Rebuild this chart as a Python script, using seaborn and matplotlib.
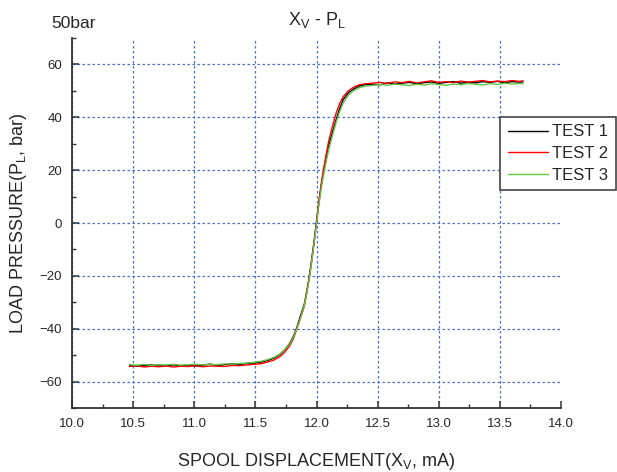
import numpy as np
import pandas as pd
import matplotlib
matplotlib.use("Agg")
import matplotlib.pyplot as plt
import seaborn as sb
from matplotlib.ticker import MultipleLocator

# spool displacement (mA) sample positions
xv = [10.47, 10.53, 10.59, 10.65, 10.71, 10.77, 10.83, 10.89, 10.95, 11.01,
      11.07, 11.13, 11.19, 11.25, 11.31, 11.37, 11.43, 11.49,
      11.55, 11.60, 11.65, 11.70, 11.74, 11.78, 11.81, 11.84, 11.87, 11.90,
      11.92, 11.94, 11.96, 11.98, 12.00, 12.02, 12.04, 12.06, 12.08, 12.10,
      12.13, 12.16, 12.19, 12.22, 12.26, 12.30, 12.35, 12.40, 12.46,
      12.52, 12.58, 12.64, 12.70, 12.76, 12.82, 12.88, 12.94, 13.00, 13.06,
      13.12, 13.18, 13.24, 13.30, 13.36, 13.42, 13.48, 13.54, 13.60, 13.66, 13.69]

test1 = [-53.8, -54.2, -53.9, -53.7, -54.1, -54.0, -53.7, -54.0, -53.7, -54.1,
         -53.8, -53.4, -53.9, -53.6, -53.3, -53.6, -53.1, -53.0,
         -52.6, -52.0, -51.2, -49.8, -48.0, -45.6, -43.0, -39.5, -35.0, -30.8,
         -26.0, -20.6, -14.0, -7.0, 0.5, 8.0, 14.5, 20.0, 24.8, 29.2,
         34.2, 39.0, 43.4, 46.8, 49.2, 50.6, 51.8, 52.4, 52.5,
         52.3, 53.0, 52.6, 52.9, 53.2, 52.7, 53.1, 53.4, 52.8, 53.2,
         53.5, 52.9, 53.3, 53.0, 53.5, 53.2, 53.6, 53.1, 53.5, 53.3, 53.4]

test2 = [-54.3, -54.0, -54.5, -54.2, -54.4, -54.1, -54.5, -54.2, -54.3, -54.0,
         -54.4, -54.1, -54.2, -54.3, -53.9, -54.0, -53.7, -53.5,
         -53.2, -52.6, -51.9, -50.6, -48.9, -46.5, -43.9, -40.0, -35.8, -31.5,
         -26.5, -21.0, -14.6, -7.6, 0.2, 8.3, 15.2, 21.0, 26.2, 31.0,
         36.5, 41.5, 45.3, 47.9, 50.0, 51.3, 52.3, 52.7, 52.9,
         53.2, 52.8, 53.4, 53.1, 53.6, 53.0, 53.4, 53.8, 53.2, 53.5,
         53.1, 53.7, 53.3, 53.6, 53.9, 53.4, 53.7, 53.5, 53.9, 53.6, 53.8]

test3 = [-53.6, -53.8, -53.5, -53.9, -53.6, -53.7, -53.5, -53.8, -53.6, -53.4,
         -53.7, -53.5, -53.6, -53.3, -53.4, -53.2, -53.0, -52.7,
         -52.3, -51.7, -50.9, -49.6, -47.9, -45.8, -43.4, -40.0, -35.9, -31.3,
         -26.8, -21.4, -14.9, -7.8, -0.4, 7.0, 13.4, 18.6, 23.4, 27.8,
         33.0, 38.0, 42.2, 45.6, 48.3, 50.0, 51.2, 51.8, 52.1,
         52.4, 52.1, 52.6, 52.3, 52.0, 52.5, 52.2, 52.7, 52.4, 52.1,
         52.6, 52.3, 52.8, 52.5, 52.2, 52.7, 52.4, 52.9, 52.6, 52.8, 52.7]

labels = ['TEST 1', 'TEST 2', 'TEST 3']
colors = ['#000000', '#ff0000', '#62c443']

df = pd.concat([pd.DataFrame({'x': xv, 'p': y, 'test': lab})
                for y, lab in zip([test1, test2, test3], labels)])

sb.set_style('white')
plt.rcParams['font.family'] = ['Liberation Sans', 'DejaVu Sans']
plt.rcParams['mathtext.fontset'] = 'custom'
plt.rcParams['mathtext.rm'] = 'Liberation Sans'

fig = plt.figure(figsize=(6.17, 4.72), dpi=100)
ax = fig.add_axes([72/617, 1-408/472, (561-72)/617, (408-38)/472])

sb.lineplot(data=df, x='x', y='p', hue='test', palette=colors, hue_order=labels,
            estimator=None, sort=False, linewidth=1.0, ax=ax, legend=True)

ax.set_xlim(10, 14)
ax.set_ylim(-70, 70)
ax.xaxis.set_major_locator(MultipleLocator(0.5))
ax.xaxis.set_minor_locator(MultipleLocator(0.25))
ax.yaxis.set_major_locator(MultipleLocator(20))
ax.yaxis.set_minor_locator(MultipleLocator(10))
ax.xaxis.set_major_formatter(plt.FormatStrFormatter('%.1f'))

ax.grid(True, which='major', color='#4a6fc9', linestyle=(0, (2, 2)), linewidth=0.9)

for s in ['top', 'right']:
    ax.spines[s].set_visible(False)
for s in ['left', 'bottom']:
    ax.spines[s].set_color('#333333')
    ax.spines[s].set_linewidth(1.3)

ax.tick_params(which='major', direction='in', length=5, width=1.1, color='#333333',
               labelsize=9.5, pad=7)
ax.tick_params(which='minor', direction='in', length=3, width=1.0, color='#333333')
ax.tick_params(axis='y', which='both', left=True)
ax.tick_params(axis='x', which='both', bottom=True)

ax.set_xlabel(r'SPOOL DISPLACEMENT(X$_\mathregular{V}$, mA)', fontsize=13, labelpad=15)
ax.set_ylabel(r'LOAD PRESSURE(P$_\mathregular{L}$, bar)', fontsize=13, labelpad=8)
ax.set_title(r'X$_\mathregular{V}$ - P$_\mathregular{L}$', fontsize=13, pad=9)
fig.text(51/617, 1-23/472, '50bar', fontsize=12.5, va='center', ha='left')

handles, labs = ax.get_legend_handles_labels()
ax.legend(handles, labs, loc='upper left', bbox_to_anchor=(500/617, 1-117/472),
          bbox_transform=fig.transFigure, fancybox=False, framealpha=1,
          edgecolor='#444444', fontsize=12, handlelength=2.4, handletextpad=0.3,
          labelspacing=0.4, borderpad=0.45, borderaxespad=0)
ax.get_legend().get_frame().set_linewidth(1.2)

# no grid line on the right edge (x = 14)
fig.canvas.draw()
for t in ax.xaxis.get_major_ticks():
    if abs(t.get_loc() - 14) < 1e-6:
        t.gridline.set_visible(False)

plt.savefig('out.png', dpi=100)
